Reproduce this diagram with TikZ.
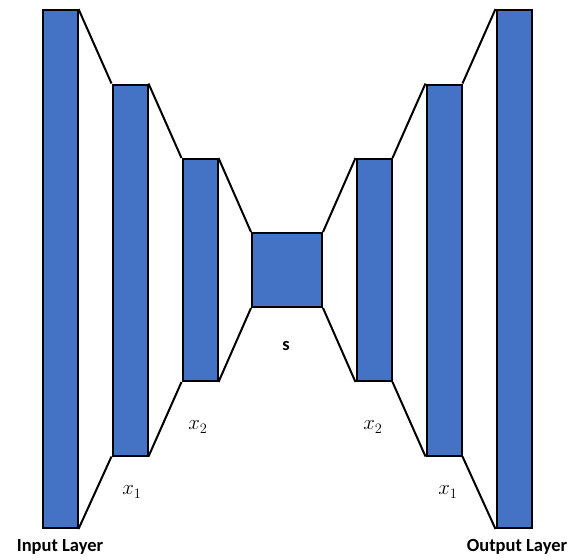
\documentclass[tikz,border=0pt]{standalone}
\usepackage{fontspec}
\setmainfont{Carlito}
\definecolor{layerblue}{HTML}{4472C4}
\tikzset{
  layer/.style={draw=black,fill=layerblue,line width=2pt,inner sep=0pt,minimum width=35pt},
  lbl/.style={font=\bfseries\fontsize{18.5}{20}\selectfont},
  mlbl/.style={font=\fontsize{21}{23}\selectfont}
}
\begin{document}
\begin{tikzpicture}[x=1pt,y=-1pt]
  \useasboundingbox (0,0) rectangle (571,560);
  \node[layer,minimum height=518pt] (in) at (60,269) {};
  \node[layer,minimum height=371pt] (e1) at (130,270) {};
  \node[layer,minimum height=222pt] (e2) at (200,270) {};
  \node[layer,minimum width=70pt,minimum height=74pt] (s) at (287,270) {};
  \node[layer,minimum height=222pt] (d2) at (374,270) {};
  \node[layer,minimum height=371pt] (d1) at (444,270) {};
  \node[layer,minimum height=518pt] (out) at (514,269) {};
  \foreach \a/\b in {in/e1,e1/e2,e2/s,s/d2,d2/d1,d1/out} {
    \draw[line width=2pt] (\a.north east) -- (\b.north west);
    \draw[line width=2pt] (\a.south east) -- (\b.south west);
  }
  \node[lbl] (inlbl) at (60,547) {Input Layer};
  \node[lbl] (outlbl) at (517,547) {Output Layer};
  \node[lbl] (slbl) at (286,346) {s};
  \node[mlbl] (e2lbl) at (198,427) {$x_2$};
  \node[mlbl] (d2lbl) at (373,427) {$x_2$};
  \node[mlbl] (e1lbl) at (132,492) {$x_1$};
  \node[mlbl] (d1lbl) at (448,492) {$x_1$};
\end{tikzpicture}
\end{document}
